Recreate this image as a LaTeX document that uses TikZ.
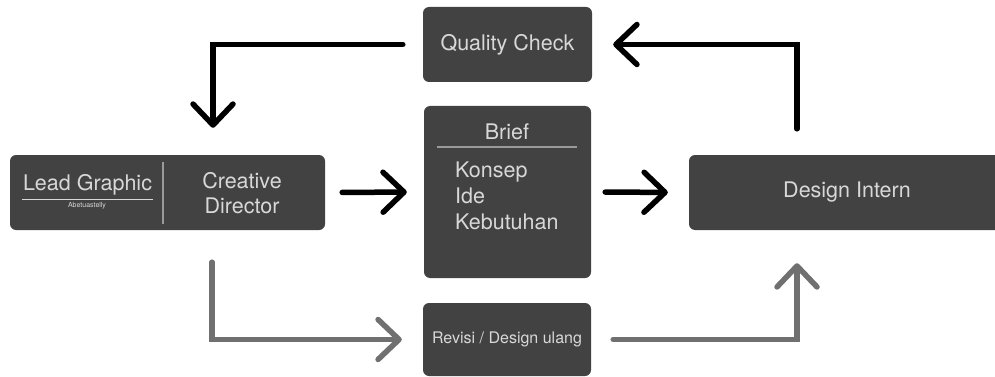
\documentclass[tikz,border=0pt]{standalone}
\usepackage{fontspec}
\setmainfont{TeX Gyre Heros}
\usetikzlibrary{arrows.meta}
\definecolor{boxfill}{HTML}{424242}
\definecolor{boxtext}{HTML}{D8D8D8}
\definecolor{grayarrow}{HTML}{707070}
\definecolor{rulegray}{HTML}{9A9A9A}
\tikzset{
  box/.style={draw=none, fill=boxfill, rounded corners=6pt, inner sep=0pt, text=boxtext},
  arr/.style={draw=black, line width=5.5pt, line cap=round, line join=miter,
    -{Straight Barb[length=21pt, width=40pt, line cap=round, line join=round]}},
  garr/.style={arr, draw=grayarrow},
  lbl/.style={text=boxtext, inner sep=0pt},
  sep/.style={draw=rulegray, line width=1.6pt},
}
\begin{document}
\begin{tikzpicture}[x=1pt, y=-1pt, font=\fontsize{21.5}{25}\selectfont]
\useasboundingbox (0,0) rectangle (995,377);
\begin{scope}
\clip (0,0) rectangle (995,377);
% boxes
\node[box, minimum width=169pt, minimum height=75pt] (qc) at (507.5,44.5) {\fontsize{21.5}{24}\selectfont Quality Check};
\node[box, minimum width=167pt, minimum height=172pt] (brief) at (507.5,192) {};
\node[box, minimum width=168pt, minimum height=73pt] (rev) at (507,339.5) {\fontsize{16}{18}\selectfont Revisi / Design ulang};
\node[box, minimum width=315pt, minimum height=75pt] (lead) at (167.5,192.5) {};
\node[box, minimum width=316pt, minimum height=75pt] (design) at (847,192.5) {\fontsize{21.5}{24}\selectfont Design Intern};
\end{scope}
% lead box contents
\node[lbl] (leadtxt) at (87.5,185) {Lead Graphic};
\coordinate (ulA) at (22,199);
\coordinate (ulB) at (153,199);
\draw[draw=boxtext, line width=0.9pt] (ulA) -- (ulB);
\node[lbl, font=\fontsize{7}{8}\selectfont] (leadsub) at (87,206) {Abetuastelly};
\coordinate (divA) at (163,162);
\coordinate (divB) at (163,224);
\draw[sep] (divA) -- (divB);
\node[lbl, align=center] (cd) at (242,193) {Creative\\Director};
% brief contents
\node[lbl] (brieft) at (507,132) {Brief};
\coordinate (brA) at (437,147);
\coordinate (brB) at (577,147);
\draw[sep, line width=2pt] (brA) -- (brB);
\node[lbl, align=left, anchor=north west, font=\fontsize{21.5}{26}\selectfont] (brieflist) at (455,162) {Konsep\\Ide\\Kebutuhan};
% connectors
\draw[arr, shorten >=27pt] ([xshift=-20pt]qc.west) -| ([xshift=45.5pt]lead.north);
\draw[arr, shorten <=26pt, shorten >=21pt] ([xshift=-50pt]design.north) |- (qc.east);
\draw[arr, shorten <=17pt, shorten >=17pt] (lead.east) -- (brief.west);
\draw[arr, shorten <=14pt, shorten >=21pt] (brief.east) -- (design.west);
\draw[garr, shorten <=32pt, shorten >=21pt] ([xshift=44.5pt]lead.south) |- (rev.west);
\draw[garr, shorten <=22pt, shorten >=33pt] (rev.east) -| ([xshift=-50pt]design.south);
\end{tikzpicture}
\end{document}
